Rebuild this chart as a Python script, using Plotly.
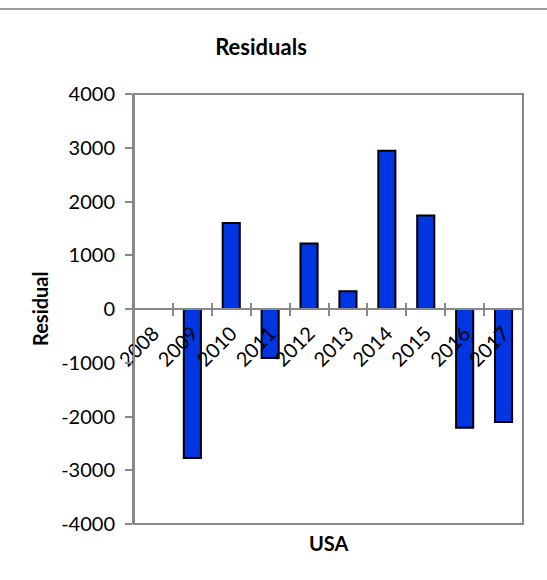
import plotly.graph_objects as go

# Residuals by year (USA)
years = ["2008", "2009", "2010", "2011", "2012", "2013", "2014", "2015", "2016", "2017"]
residuals = [0, -2770, 1600, -910, 1220, 330, 2945, 1740, -2210, -2100]
y_ticks = [-4000, -3000, -2000, -1000, 0, 1000, 2000, 3000, 4000]
y_tick_text = [str(v) for v in y_ticks]  # plain hyphen for negatives

W, H = 547, 580
L, R, T, B = 134, 24, 94, 56
pw, ph = W - L - R, H - T - B

axis_grey = "#898989"
font_family = "Lato, 'Open Sans', sans-serif"
tick_size = 20

fig = go.Figure()
fig.add_trace(go.Bar(
    x=years, y=residuals,
    marker=dict(color="#0036E2", line=dict(color="black", width=2)),
    showlegend=False,
))

# boundary positions used for the upward half of the category tick marks
n = len(years)
bounds = [i - 0.5 for i in range(n + 1)]

fig.update_layout(
    width=W, height=H,
    margin=dict(l=L, r=R, t=T, b=B),
    paper_bgcolor="white", plot_bgcolor="white",
    font=dict(family=font_family, color="black", size=tick_size),
    bargap=0.56,
    title=dict(text="<b>Residuals</b>", x=261 / W, xanchor="center",
               y=1 - 47 / H, yanchor="middle", yref="container",
               font=dict(size=22, family=font_family)),
    xaxis=dict(
        type="category", categoryarray=years, range=[-0.5, n - 0.5],
        anchor="free", position=0.5,
        showline=True, linecolor=axis_grey, linewidth=2,
        ticks="outside", tickson="boundaries", ticklen=6, tickwidth=1.5, tickcolor=axis_grey,
        tickangle=-45, tickfont=dict(size=tick_size), ticklabelstandoff=4,
        showgrid=False, zeroline=False,
    ),
    xaxis2=dict(
        overlaying="x", anchor="free", position=0.5,
        range=[-0.5, n - 0.5], tickmode="array", tickvals=bounds,
        ticks="inside", ticklen=6, tickwidth=1.5, tickcolor=axis_grey,
        showticklabels=False, showline=False, showgrid=False, zeroline=False,
    ),
    yaxis=dict(
        range=[-4000, 4000], tickmode="array", tickvals=y_ticks, ticktext=y_tick_text,
        showline=True, linecolor=axis_grey, linewidth=2,
        ticks="outside", ticklen=7, tickwidth=1.5, tickcolor=axis_grey,
        ticklabelstandoff=6,
        showgrid=False, zeroline=False, tickfont=dict(size=tick_size),
    ),
)

# dummy trace so the overlay axis is drawn
fig.add_trace(go.Scatter(x=[0], y=[0], xaxis="x2", mode="markers",
                         marker=dict(opacity=0), showlegend=False, hoverinfo="skip"))

# plot-area frame
fig.add_shape(type="rect", xref="paper", yref="paper", x0=0, y0=0, x1=1, y1=1,
              line=dict(color=axis_grey, width=2), layer="above")
# chart border line across the top
fig.add_shape(type="line", xref="paper", yref="paper",
              x0=-L / pw, x1=(W - L) / pw, y0=1 + (T - 9) / ph, y1=1 + (T - 9) / ph,
              line=dict(color="#9a9a9a", width=2))

fig.add_annotation(text="<b>USA</b>", xref="paper", yref="paper",
                   x=0.5, y=-(543 - (T + ph)) / ph, showarrow=False,
                   xanchor="center", yanchor="middle", font=dict(size=tick_size))
fig.add_annotation(text="<b>Residual</b>", xref="paper", yref="paper",
                   x=(40 - L) / pw, y=0.5, textangle=-90, showarrow=False,
                   xanchor="center", yanchor="middle", font=dict(size=tick_size))

fig.write_html("out.html")
